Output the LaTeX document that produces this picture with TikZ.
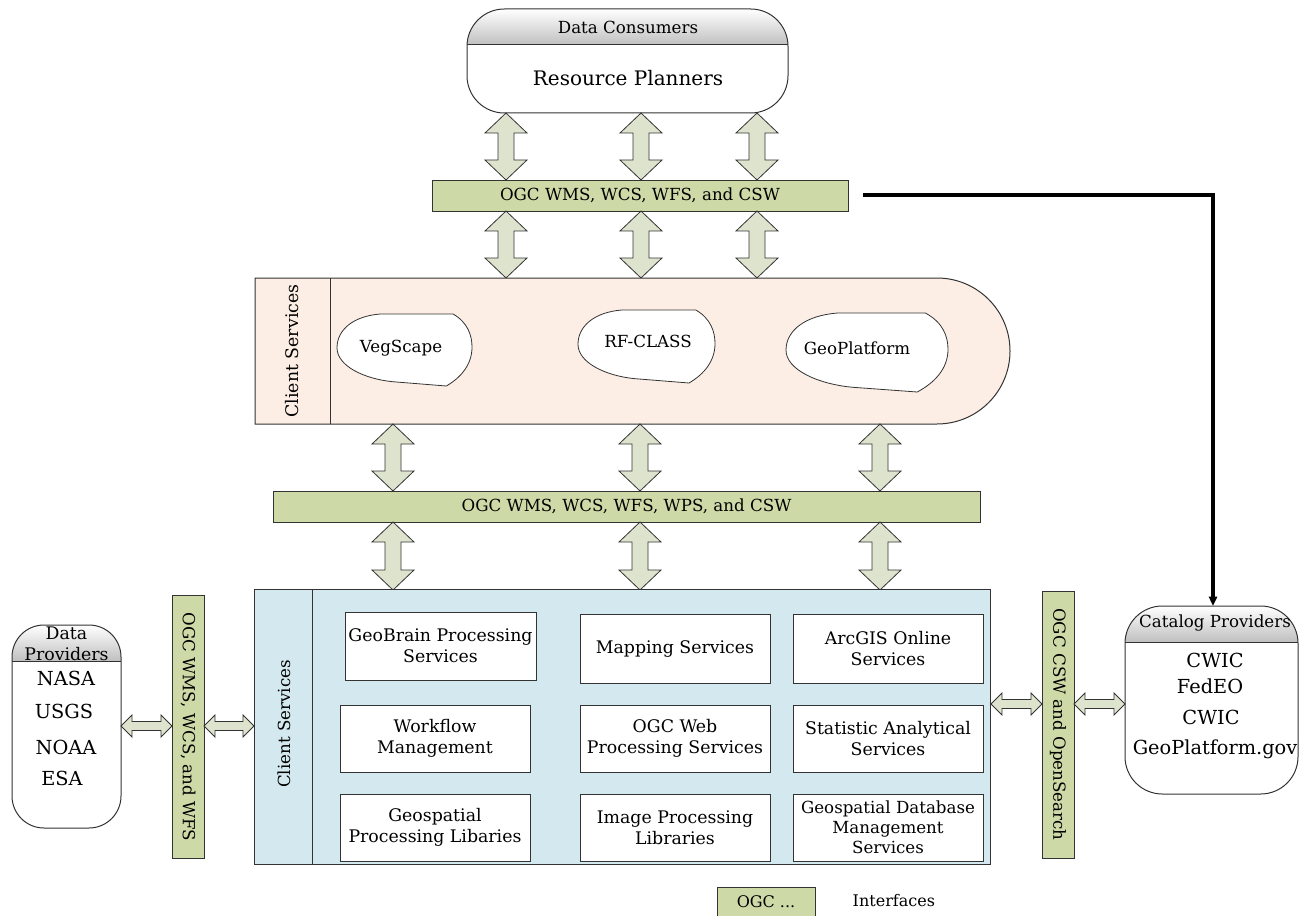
\documentclass[tikz,border=0pt]{standalone}
\usepackage{fontspec}
\setmainfont{DejaVu Serif}
\usetikzlibrary{arrows.meta,calc}
\definecolor{bandgreen}{HTML}{CDDAA7}
\definecolor{arrowfill}{HTML}{DEE3CD}
\definecolor{peach}{HTML}{FCEEE4}
\definecolor{lblue}{HTML}{D3E9EF}
\definecolor{edge}{HTML}{333333}
\newcommand\vdarrow[3]{% x, ytop, ybot
  \draw[fatarrow] (#1,#2) -- ++(21,20) -- ++(-13,0) -- (#1+8,#3-20) -- ++(13,0) -- (#1,#3) -- ++(-21,-20) -- ++(13,0) -- (#1-8,#2+20) -- ++(-13,0) -- cycle;}
\newcommand\hdarrow[3]{% y, xleft, xright
  \draw[fatarrow] (#2,#1) -- ++(11,-11) -- ++(0,6.5) -- (#3-11,#1-4.5) -- ++(0,-6.5) -- (#3,#1) -- ++(-11,11) -- ++(0,-6.5) -- (#2+11,#1+4.5) -- ++(0,6.5) -- cycle;}
\newcommand\blob[5]{% name x y w h
  \begin{scope}[shift={(#2,#3)},x=#4*0.75pt,y=-#5*0.75pt]
  \draw[edge,fill=white,line width=0.6pt] (0.32,0) -- (0.86,0) .. controls (0.97,0.12) and (1.0,0.3) .. (1.0,0.46) .. controls (1.0,0.7) and (0.92,0.88) .. (0.81,1) -- (0.41,0.94) .. controls (0.2,0.9) and (0,0.72) .. (0,0.47) .. controls (0,0.22) and (0.12,0.03) .. (0.32,0) -- cycle;
  \coordinate (#1) at (0.5,0.5);
  \end{scope}}
\tikzset{
  fatarrow/.style={draw=edge,fill=arrowfill,line width=0.6pt},
  band/.style={draw=edge,fill=bandgreen,line width=0.6pt},
  wbox/.style={draw=edge,fill=white,line width=0.6pt,inner sep=0pt},
  boxtxt/.style={font=\fontsize{13}{15.5}\selectfont,align=center},
}
\begin{document}
\begin{tikzpicture}[x=0.75pt,y=-0.75pt]
\useasboundingbox (0,0) rectangle (1312,916);

% ---------- Data Consumers ----------
\begin{scope}
\clip[rounded corners=28pt] (467,9) rectangle (788,113);
\shade[top color=white,bottom color=black!25] (467,9) rectangle (788,45);
\end{scope}
\draw[edge,line width=0.75pt,rounded corners=28pt] (467,9) rectangle (788,113);
\draw[edge,line width=0.75pt] (467,45) -- (788,45);
\node[font=\fontsize{12.5}{14}\selectfont] (dctitle) at (628,27) {Data Consumers};
\node[font=\fontsize{15}{17}\selectfont] (rp) at (628,78) {Resource Planners};

% ---------- band 1 ----------
\node[band,minimum width=416*0.75pt,minimum height=31*0.75pt,inner sep=0pt,font=\fontsize{12.5}{15}\selectfont] (band1) at (640,195.5) {OGC WMS, WCS, WFS, and CSW};

\vdarrow{506}{113}{180}
\vdarrow{641}{113}{180}
\vdarrow{757}{113}{180}
\vdarrow{506}{211}{278}
\vdarrow{641}{211}{278}
\vdarrow{757}{211}{278}

% ---------- Client services (top) ----------
\draw[edge,fill=peach,line width=0.75pt] (255,278) -- (937,278) arc[start angle=-90,end angle=90,radius=73] -- (255,424) -- cycle;
\draw[edge,line width=0.75pt] (330,278) -- (330,424);
\node[rotate=90,font=\fontsize{13}{15}\selectfont] (cs1) at (292,351) {Client Services};
\blob{veg}{337}{314}{135}{72}
\blob{rfc}{578}{310}{137}{73}
\blob{geop}{786}{313}{162}{79}
\node[font=\fontsize{12.5}{14}\selectfont] (vegt) at (401,348) {VegScape};
\node[font=\fontsize{12.5}{14}\selectfont] (rft) at (648,341) {RF-CLASS};
\node[font=\fontsize{12.5}{14}\selectfont] (geot) at (857,348) {GeoPlatform};

\vdarrow{393}{424}{491}
\vdarrow{640}{424}{491}
\vdarrow{880}{424}{491}

% ---------- band 2 ----------
\node[band,minimum width=707*0.75pt,minimum height=31*0.75pt,inner sep=0pt,font=\fontsize{12.5}{15}\selectfont] (band2) at (626.5,506.5) {OGC WMS, WCS, WFS, WPS, and CSW};

\vdarrow{393}{522}{590}
\vdarrow{640}{522}{590}
\vdarrow{880}{522}{590}

% ---------- Client services (bottom) ----------
\draw[edge,fill=lblue,line width=0.75pt] (254,589) rectangle (990,864);
\draw[edge,line width=0.75pt] (312,589) -- (312,864);
\node[rotate=90,font=\fontsize{12.5}{15}\selectfont] (cs2) at (284,724) {Client Services};

\node[wbox,minimum width=191*0.75pt,minimum height=68*0.75pt,boxtxt] (gb) at (440.5,646) {GeoBrain Processing\\Services};
\node[wbox,minimum width=190*0.75pt,minimum height=69*0.75pt,boxtxt] (map) at (675,648.5) {Mapping Services};
\node[wbox,minimum width=190*0.75pt,minimum height=69*0.75pt,boxtxt] (arc) at (888,648.5) {ArcGIS Online\\Services};
\node[wbox,minimum width=190*0.75pt,minimum height=67*0.75pt,boxtxt] (wf) at (435,738.5) {Workflow\\Management};
\node[wbox,minimum width=190*0.75pt,minimum height=67*0.75pt,boxtxt] (wps) at (675,738.5) {OGC Web\\Processing Services};
\node[wbox,minimum width=190*0.75pt,minimum height=67*0.75pt,boxtxt] (stat) at (888,738.5) {Statistic Analytical\\Services};
\node[wbox,minimum width=190*0.75pt,minimum height=67*0.75pt,boxtxt] (gpl) at (435,827.5) {Geospatial\\Processing Libaries};
\node[wbox,minimum width=190*0.75pt,minimum height=67*0.75pt,boxtxt] (ipl) at (675,827.5) {Image Processing\\Libraries};
\node[wbox,minimum width=190*0.75pt,minimum height=67*0.75pt,align=center,font=\fontsize{12.5}{15}\selectfont] (gdb) at (888,827.5) {Geospatial Database\\Management\\Services};

% ---------- Data Providers ----------
\begin{scope}
\clip[rounded corners=24pt] (12,625) rectangle (121,828);
\shade[top color=white,bottom color=black!25] (12,625) rectangle (121,661);
\end{scope}
\draw[edge,line width=0.75pt,rounded corners=24pt] (12,625) rectangle (121,828);
\draw[edge,line width=0.75pt] (12,661) -- (121,661);
\node[font=\fontsize{13}{15.5}\selectfont,align=center] (dpt) at (66.5,644) {Data\\Providers};
\node[font=\fontsize{14.5}{17}\selectfont] (nasa) at (66,678) {NASA};
\node[font=\fontsize{14.5}{17}\selectfont] (usgs) at (64,711) {USGS};
\node[font=\fontsize{14.5}{17}\selectfont] (noaa) at (66,747) {NOAA};
\node[font=\fontsize{14.5}{17}\selectfont] (esa) at (62,778) {ESA};

\node[band,minimum width=263*0.75pt,minimum height=32*0.75pt,inner sep=0pt,rotate=-90,font=\fontsize{12.5}{15}\selectfont] (bandL) at (188,727) {OGC WMS, WCS, and WFS};
\hdarrow{726}{121}{172}
\hdarrow{726}{204}{254}

% ---------- Catalog Providers ----------
\begin{scope}
\clip[rounded corners=28pt] (1125,606) rectangle (1298,794);
\shade[top color=white,bottom color=black!25] (1125,606) rectangle (1298,642);
\end{scope}
\draw[edge,line width=0.75pt,rounded corners=28pt] (1125,606) rectangle (1298,794);
\draw[edge,line width=0.75pt] (1125,642) -- (1298,642);
\node[font=\fontsize{12.5}{15}\selectfont] (cpt) at (1215,623) {Catalog Providers};
\node[font=\fontsize{14.5}{17}\selectfont] (c1) at (1215,660) {CWIC};
\node[font=\fontsize{14.5}{17}\selectfont] (fed) at (1210,686) {FedEO};
\node[font=\fontsize{14.5}{17}\selectfont] (c2) at (1211,717) {CWIC};
\node[font=\fontsize{14.5}{17}\selectfont] (gpg) at (1215,749) {GeoPlatform.gov};

\node[band,minimum width=267*0.75pt,minimum height=32*0.75pt,inner sep=0pt,rotate=-90,font=\fontsize{12.5}{15}\selectfont] (bandR) at (1058,724.5) {OGC CSW and OpenSearch};
\hdarrow{704}{991}{1042}
\hdarrow{704}{1074}{1125}

% ---------- catalog link ----------
\coordinate (lstart) at (863,195);
\coordinate (cattop) at (1213,606);
\draw[black,line width=2.4pt,-{Triangle[length=7pt,width=6pt]}] (lstart) -| (cattop);

% ---------- legend ----------
\node[band,minimum width=98*0.75pt,minimum height=30*0.75pt,inner sep=0pt,font=\fontsize{12}{14}\selectfont] (leg) at (766,902) {OGC ...};
\node[font=\fontsize{12}{14}\selectfont,anchor=west] (legt) at (848,901) {Interfaces};
\end{tikzpicture}
\end{document}
